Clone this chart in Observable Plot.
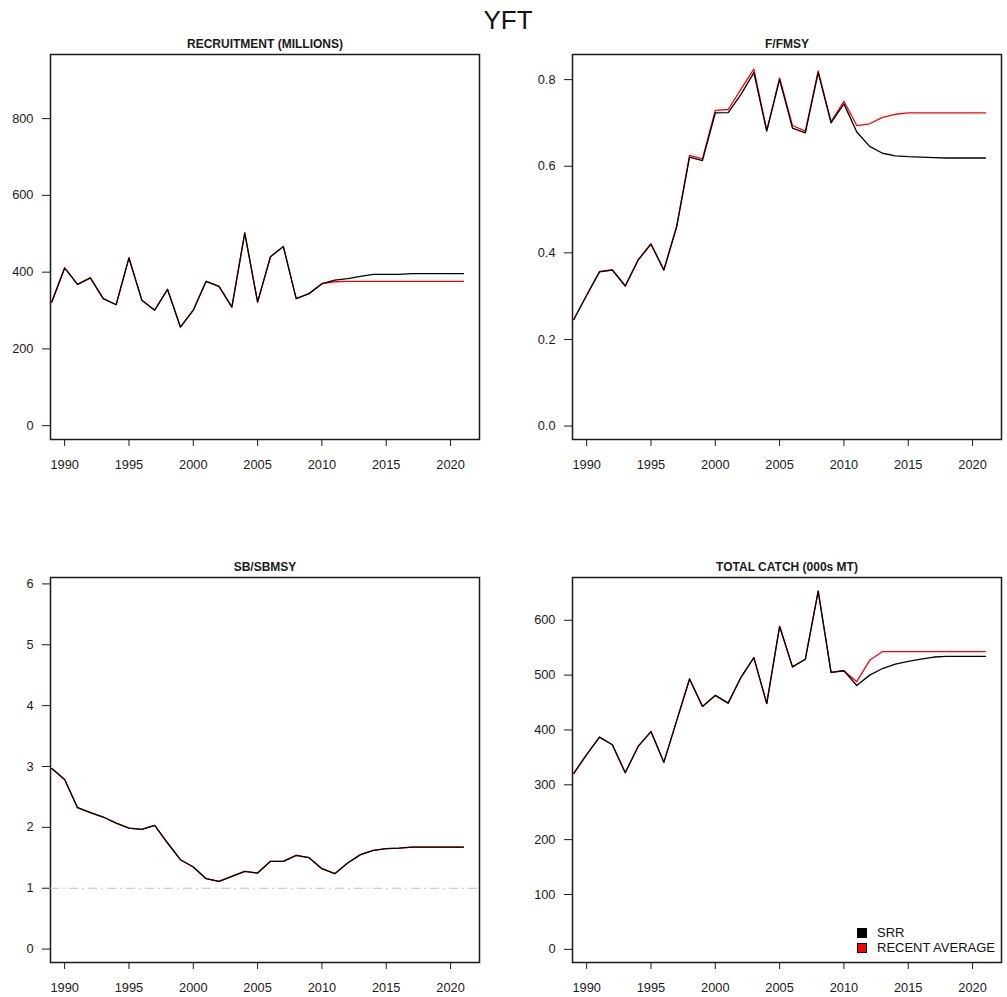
<!DOCTYPE html>
<html>
<head>
<meta charset="utf-8">
<script src="https://cdn.jsdelivr.net/npm/d3@7"></script>
<script src="https://cdn.jsdelivr.net/npm/@observablehq/plot@0.6"></script>
<style>
  html, body { margin: 0; padding: 0; background: #ffffff; }
  body { width: 1007px; height: 997px; position: relative; overflow: hidden;
         font-family: "Liberation Sans", Arial, Helvetica, sans-serif; color: #111; }
  .panel { position: absolute; }
  .maintitle { position: absolute; left: 0; width: 1016px; top: 7px; text-align: center;
               font-size: 26px; line-height: 26px; color: #111; }
  .legend { position: absolute; left: 857px; top: 925px; font-size: 13px; line-height: 15px; color: #111; }
  .legend .row { display: flex; align-items: center; height: 15px; }
  .legend .sw { width: 8px; height: 8px; border: 1px solid #000; margin-right: 10px; box-sizing: content-box; }
</style>
</head>
<body>
<div class="maintitle">YFT</div>
<div id="p1" class="panel" style="left:0px;top:30px"></div>
<div id="p2" class="panel" style="left:500px;top:30px"></div>
<div id="p3" class="panel" style="left:0px;top:550px"></div>
<div id="p4" class="panel" style="left:500px;top:550px"></div>
<div class="legend" id="legend"></div>
<script>
// ---- data ----
const years = [1989,1990,1991,1992,1993,1994,1995,1996,1997,1998,1999,2000,2001,2002,2003,2004,2005,2006,2007,2008,2009,2010,2011,2012,2013,2014,2015,2016,2017,2018,2019,2020,2021];

const seriesNames = ["SRR", "RECENT AVERAGE"];
const seriesColors = ["#000000", "#ff0000"];

const recruitSRR = [322,411,368,385,331,315,437,327,301,355,257,301,376,363,309,502,322,440,467,331,344,370,379,383,389,394,394,394,396,396,396,396,396];
const recruitAvg = [322,411,368,385,331,315,437,327,301,355,257,301,376,363,309,502,322,440,467,331,344,370,375,376,376,376,376,376,376,376,376,376,376];

const ffmsySRR = [0.246,0.302,0.356,0.360,0.323,0.383,0.420,0.360,0.460,0.621,0.613,0.723,0.724,0.766,0.816,0.681,0.800,0.688,0.677,0.816,0.700,0.744,0.679,0.646,0.630,0.624,0.622,0.621,0.620,0.619,0.619,0.619,0.619];
const ffmsyAvg = [0.246,0.302,0.357,0.361,0.324,0.384,0.421,0.361,0.462,0.625,0.617,0.729,0.731,0.778,0.824,0.683,0.804,0.694,0.681,0.820,0.703,0.750,0.694,0.698,0.713,0.720,0.723,0.723,0.723,0.723,0.723,0.723,0.723];

const sbsbmsySRR = [2.966,2.785,2.324,2.242,2.170,2.071,1.989,1.968,2.034,1.743,1.469,1.348,1.157,1.113,1.195,1.277,1.249,1.442,1.442,1.540,1.502,1.321,1.239,1.414,1.552,1.622,1.650,1.660,1.677,1.677,1.677,1.677,1.677];
const sbsbmsyAvg = [2.966,2.785,2.324,2.242,2.170,2.071,1.989,1.968,2.034,1.743,1.469,1.348,1.157,1.113,1.195,1.277,1.249,1.442,1.442,1.540,1.502,1.321,1.239,1.414,1.552,1.622,1.650,1.660,1.677,1.677,1.677,1.677,1.677];

const catchSRR = [321,355,387,373,322,370,397,341,417,493,443,463,449,496,532,448,589,515,529,653,505,508,481,500,512,520,525,529,533,534,534,534,534];
const catchAvg = [321,355,387,373,322,370,397,341,417,493,443,463,449,496,532,448,589,515,529,653,505,508,488,527,543,543,543,543,543,543,543,543,543];

const xTicks = [1990,1995,2000,2005,2010,2015,2020];
const recruitTicks = [0,200,400,600,800];
const ffmsyTicks = [0,0.2,0.4,0.6,0.8];
const sbTicks = [0,1,2,3,4,5,6];
const catchTicks = [0,100,200,300,400,500,600];

const panelTitles = ["RECRUITMENT (MILLIONS)", "F/FMSY", "SB/SBMSY", "TOTAL CATCH (000s MT)"];

// ---- drawing ----
function rows(arr) { return years.map((yr, i) => ({year: yr, value: arr[i]})); }

function panel(o) {
  const marks = [
    Plot.frame({stroke: "#1a1a1a", strokeWidth: 1.5}),
  ];
  if (o.ref != null) {
    marks.push(Plot.ruleY([o.ref], {stroke: "#c0c0c0", strokeWidth: 1, strokeDasharray: "9,4,2,4"}));
  }
  // red (recent average) first, black (SRR) on top
  marks.push(Plot.line(rows(o.avg), {x: "year", y: "value", stroke: seriesColors[1], strokeWidth: 1.3}));
  marks.push(Plot.line(rows(o.srr), {x: "year", y: "value", stroke: seriesColors[0], strokeWidth: 1.3}));
  marks.push(Plot.text([o.title], {frameAnchor: "top", dy: o.titleDy, fontWeight: "bold", fontSize: 12, lineAnchor: "middle", fill: "#1a1a1a"}));
  return Plot.plot({
    width: o.w, height: o.h,
    marginLeft: o.mL, marginRight: o.mR, marginTop: o.mT, marginBottom: o.mB,
    x: {domain: [1988.9, 2022.25], ticks: xTicks, tickFormat: "d", tickSize: 7, tickPadding: 13, label: null},
    y: {domain: o.yDomain, ticks: o.yTicks, tickFormat: o.fmt, tickSize: 8, tickPadding: 9, label: null},
    style: {fontFamily: '"Liberation Sans", Arial, sans-serif', fontSize: "12.8px", color: "#1a1a1a", background: "transparent", overflow: "visible"},
    marks
  });
}

document.getElementById("p1").append(panel({
  w: 500, h: 450, mL: 50, mR: 21, mT: 24, mB: 41,
  yDomain: [-36, 967], yTicks: recruitTicks, fmt: "d",
  srr: recruitSRR, avg: recruitAvg, title: panelTitles[0], titleDy: -10
}));
document.getElementById("p2").append(panel({
  w: 507, h: 450, mL: 72, mR: 6, mT: 24, mB: 41,
  yDomain: [-0.031, 0.858], yTicks: ffmsyTicks, fmt: ".1f",
  srr: ffmsySRR, avg: ffmsyAvg, title: panelTitles[1], titleDy: -10
}));
document.getElementById("p3").append(panel({
  w: 500, h: 447, mL: 50, mR: 21, mT: 27, mB: 35,
  yDomain: [-0.22, 6.105], yTicks: sbTicks, fmt: "d",
  srr: sbsbmsySRR, avg: sbsbmsyAvg, title: panelTitles[2], titleDy: -10, ref: 1
}));
document.getElementById("p4").append(panel({
  w: 507, h: 447, mL: 72, mR: 6, mT: 27, mB: 35,
  yDomain: [-24, 678], yTicks: catchTicks, fmt: "d",
  srr: catchSRR, avg: catchAvg, title: panelTitles[3], titleDy: -10
}));

// legend
const lg = document.getElementById("legend");
seriesNames.forEach((name, i) => {
  const row = document.createElement("div");
  row.className = "row";
  const sw = document.createElement("div");
  sw.className = "sw";
  sw.style.background = seriesColors[i];
  const t = document.createElement("span");
  t.textContent = name;
  row.append(sw, t);
  lg.append(row);
});
</script>
</body>
</html>
